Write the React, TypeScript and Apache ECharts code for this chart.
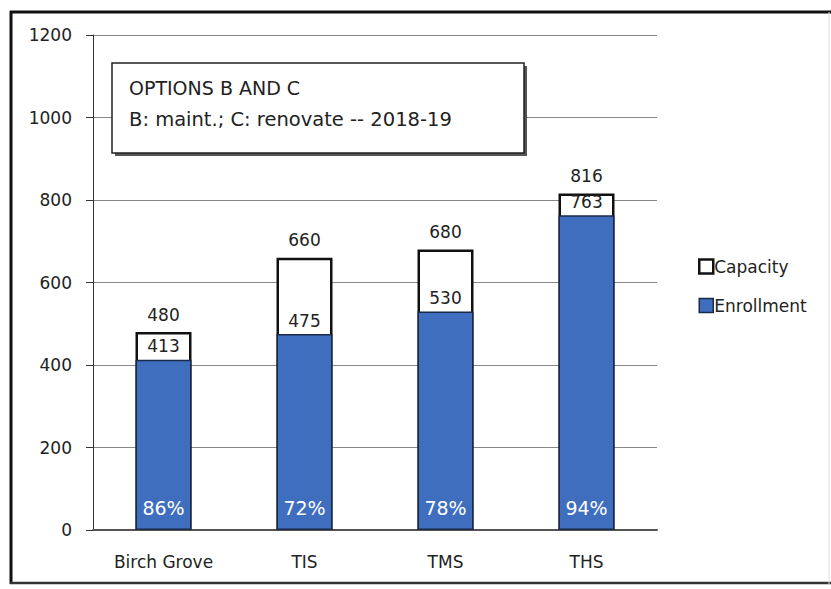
import React, { useEffect, useRef } from "react";
import * as echarts from "echarts";

const categories = ["Birch Grove", "TIS", "TMS", "THS"];
const capacity = [480, 660, 680, 816];
const enrollment = [413, 475, 530, 763];
const percentLabels = ["86%", "72%", "78%", "94%"];
const yTicks = { min: 0, max: 1200, interval: 200 };
const boxTitle = "OPTIONS B AND C";
const boxSubtitle = "B: maint.; C: renovate -- 2018-19";

const FONT = "'DejaVu Sans', sans-serif";

export default function App() {
  const ref = useRef<HTMLDivElement>(null);
  useEffect(() => {
    if (!ref.current) return;
    const chart = echarts.init(ref.current, null, { renderer: "svg" });
    chart.setOption({
      animation: false,
      backgroundColor: "#ffffff",
      textStyle: { fontFamily: FONT },
      grid: { left: 93, top: 35, right: 174, bottom: 59, containLabel: false },
      legend: {
        orient: "vertical",
        left: 693,
        top: 253,
        itemWidth: 14,
        itemHeight: 14,
        itemGap: 22,
        icon: "rect",
        data: [
          { name: "Capacity", itemStyle: { color: "#ffffff", borderColor: "#111", borderWidth: 2.5 } },
          { name: "Enrollment", itemStyle: { color: "#3f6ebf", borderColor: "#1a2a48", borderWidth: 1.5 } },
        ],
        textStyle: { fontFamily: FONT, fontSize: 17, color: "#222", padding: [0, 0, 0, -4] },
      },
      xAxis: {
        type: "category",
        data: categories,
        axisLine: { show: true, lineStyle: { color: "#555", width: 2 } },
        axisTick: { show: false },
        axisLabel: { fontFamily: FONT, fontSize: 17, color: "#222", margin: 23 },
      },
      yAxis: {
        type: "value",
        min: yTicks.min,
        max: yTicks.max,
        interval: yTicks.interval,
        axisLine: { show: true, lineStyle: { color: "#333", width: 1 } },
        axisTick: { show: true, inside: false, length: 7, lineStyle: { color: "#333" } },
        axisLabel: {
          fontFamily: FONT,
          fontSize: 17,
          color: "#222",
          margin: 21,
          formatter: (v: number) => String(v),
        },
        splitLine: { show: true, lineStyle: { color: "#888", width: 1 } },
      },
      series: [
        {
          name: "Capacity",
          type: "bar",
          data: capacity,
          barWidth: 56,
          barGap: "-100%",
          z: 2,
          itemStyle: { color: "#ffffff", borderColor: "#111", borderWidth: 2.5 },
          label: {
            show: true,
            position: "top",
            distance: 9,
            fontFamily: FONT,
            fontSize: 17,
            color: "#222",
          },
        },
        {
          name: "Enrollment",
          type: "bar",
          data: enrollment,
          barWidth: 56,
          barGap: "-100%",
          z: 3,
          itemStyle: { color: "#3f6ebf", borderColor: "#1a2a48", borderWidth: 1.5 },
          label: {
            show: true,
            position: "top",
            distance: 5,
            fontFamily: FONT,
            fontSize: 17,
            color: "#222",
          },
        },
        {
          name: "Percent",
          type: "bar",
          data: enrollment,
          barWidth: 56,
          barGap: "-100%",
          z: 4,
          itemStyle: { color: "rgba(0,0,0,0)" },
          label: {
            show: true,
            position: "insideBottom",
            distance: 13,
            fontFamily: FONT,
            fontSize: 19,
            color: "#ffffff",
            formatter: (p: any) => percentLabels[p.dataIndex],
          },
          tooltip: { show: false },
        },
      ],
      graphic: [
        // outer frame
        { type: "line", shape: { x1: 11, y1: 11, x2: 11, y2: 584 }, style: { stroke: "#111", lineWidth: 3 } },
        { type: "line", shape: { x1: 10, y1: 12, x2: 831, y2: 12 }, style: { stroke: "#111", lineWidth: 3 } },
        { type: "line", shape: { x1: 10, y1: 583, x2: 831, y2: 583 }, style: { stroke: "#333", lineWidth: 2.5 } },
        { type: "line", shape: { x1: 829, y1: 12, x2: 829, y2: 584 }, style: { stroke: "#ddd", lineWidth: 1 } },
        // text box shadow
        {
          type: "rect",
          shape: { x: 115, y: 66, width: 412, height: 90 },
          style: { fill: "#555" },
          z: 10,
        },
        {
          type: "rect",
          shape: { x: 112, y: 63, width: 412, height: 90 },
          style: { fill: "#ffffff", stroke: "#222", lineWidth: 1.5 },
          z: 11,
        },
        {
          type: "text",
          x: 129,
          y: 88,
          z: 12,
          style: {
            text: boxTitle,
            fontFamily: FONT,
            fontSize: 19,
            fill: "#222",
            verticalAlign: "middle",
          },
        },
        {
          type: "text",
          x: 129,
          y: 119,
          z: 12,
          style: {
            text: boxSubtitle,
            fontFamily: FONT,
            fontSize: 19.5,
            fill: "#222",
            verticalAlign: "middle",
          },
        },
      ],
    });
    return () => chart.dispose();
  }, []);
  return <div ref={ref} style={{ width: 831, height: 589, position: "absolute", left: 0, top: 0 }} />;
}
